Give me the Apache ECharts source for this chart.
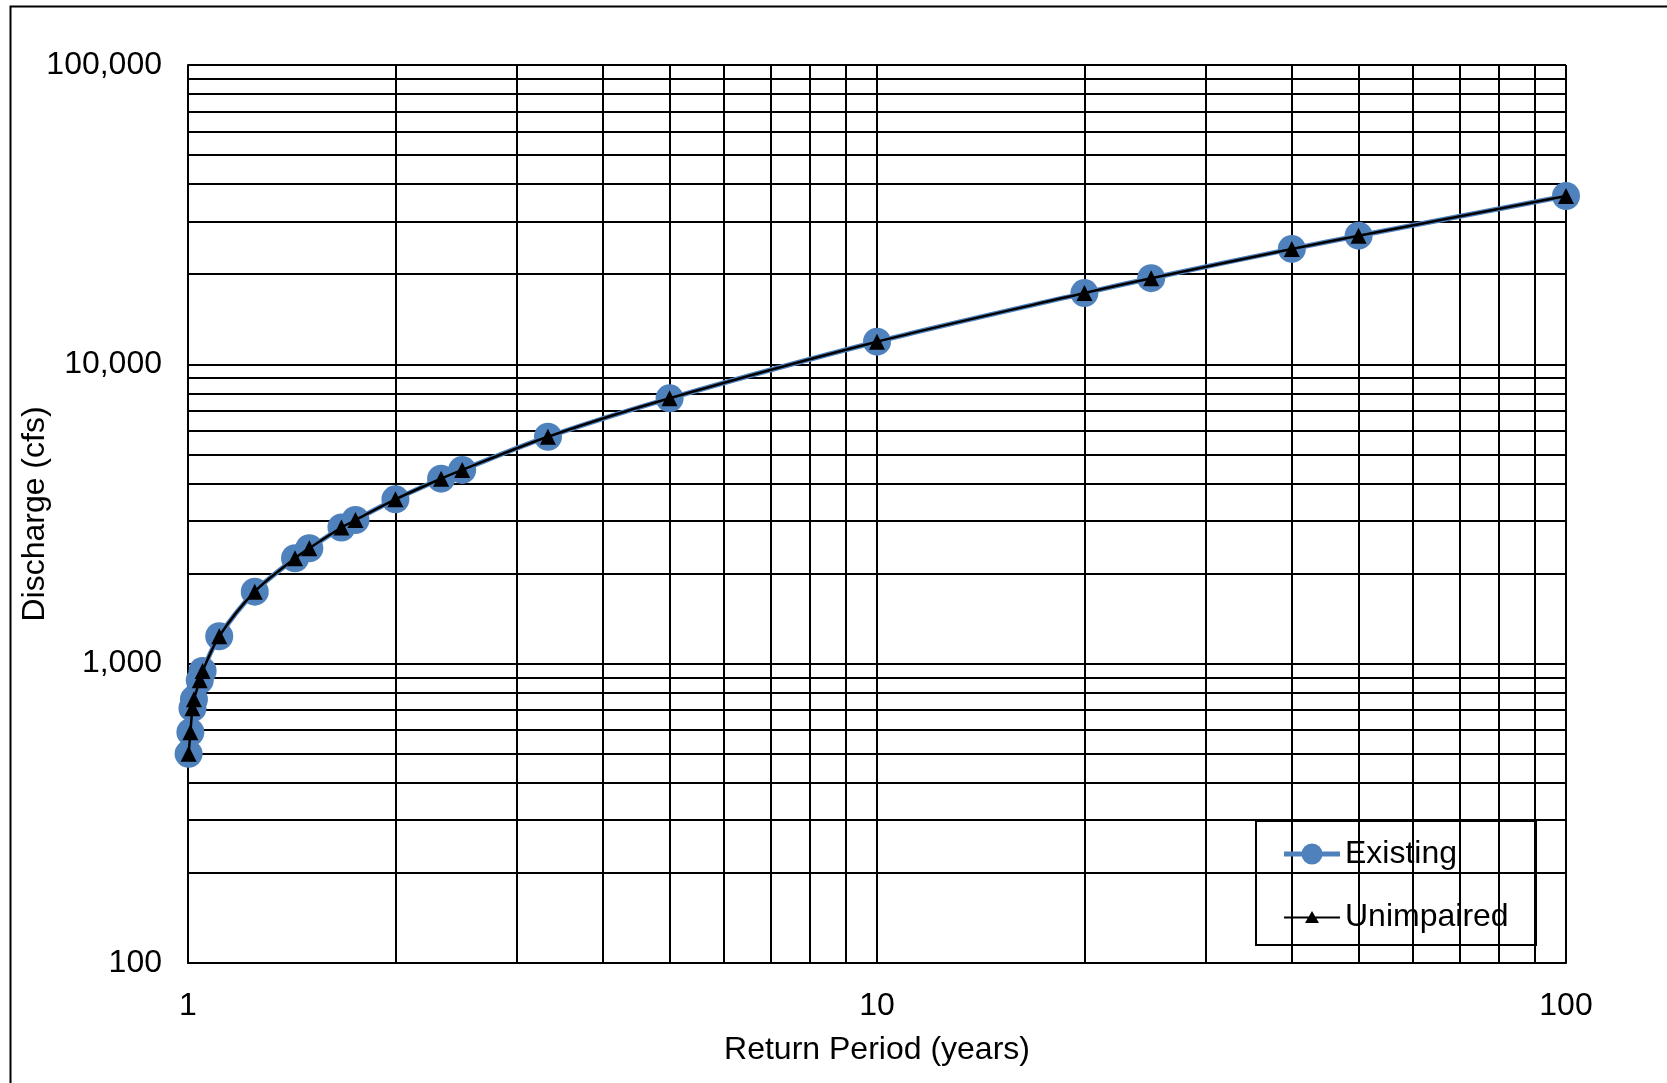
<!DOCTYPE html>
<html>
<head>
<meta charset="utf-8">
<script src="https://cdn.jsdelivr.net/npm/echarts@6/dist/echarts.min.js"></script>
<style>
html,body{margin:0;padding:0;background:#fff;}
#chart{width:1667px;height:1083px;}
</style>
</head>
<body>
<div id="chart"></div>
<script>
// Return period (years)
const returnPeriod = [1.002, 1.008, 1.015, 1.02, 1.04, 1.05, 1.11, 1.25, 1.43, 1.5, 1.67, 1.75, 2, 2.33, 2.5, 3.33, 5, 10, 20, 25, 40, 50, 100];
// Discharge (cfs)
const existing   = [500, 590, 710, 760, 880, 945, 1235, 1740, 2250, 2430, 2850, 3020, 3540, 4150, 4440, 5730, 7700, 11900, 17300, 19400, 24300, 26900, 36500];
const unimpaired = [500, 590, 710, 760, 880, 945, 1235, 1740, 2250, 2430, 2850, 3020, 3540, 4150, 4440, 5730, 7700, 11900, 17300, 19400, 24300, 26900, 36500];
// minor gridline values
const xMinorGrid = [2, 3, 4, 5, 6, 7, 8, 9, 20, 30, 40, 50, 60, 70, 80, 90];
const yMinorGrid = [200, 300, 400, 500, 600, 700, 800, 900, 2000, 3000, 4000, 5000, 6000, 7000, 8000, 9000, 20000, 30000, 40000, 50000, 60000, 70000, 80000, 90000];

const FONT = '"Liberation Sans", Arial, sans-serif';
const chart = echarts.init(document.getElementById('chart'), null, {renderer: 'canvas'});

const zip = (xs, ys) => xs.map((x, i) => [x, ys[i]]);
const markData = xMinorGrid.map(v => ({xAxis: v})).concat(yMinorGrid.map(v => ({yAxis: v})));

chart.setOption({
  animation: false,
  backgroundColor: '#fff',
  textStyle: {fontFamily: FONT, color: '#000'},
  grid: {left: 188, right: 101, top: 65, bottom: 120, containLabel: false, outerBoundsMode: 'none'},
  xAxis: {
    type: 'log', logBase: 10, min: 1, max: 100,
    name: 'Return Period (years)', nameLocation: 'middle', nameGap: 71, nameMoveOverlap: false,
    nameTextStyle: {fontSize: 32, color: '#000', fontFamily: FONT},
    axisLine: {show: true, lineStyle: {color: '#000', width: 2}},
    axisTick: {show: false},
    axisLabel: {fontSize: 32, color: '#000', margin: 27, fontFamily: FONT},
    splitLine: {show: true, lineStyle: {color: '#000', width: 2}}
  },
  yAxis: {
    type: 'log', logBase: 10, min: 100, max: 100000,
    name: 'Discharge (cfs)', nameLocation: 'middle', nameGap: 137, nameRotate: 90, nameMoveOverlap: false,
    nameTextStyle: {fontSize: 32, color: '#000', fontFamily: FONT},
    axisLine: {show: true, lineStyle: {color: '#000', width: 2}},
    axisTick: {show: false},
    axisLabel: {fontSize: 32, color: '#000', margin: 26, fontFamily: FONT,
      formatter: v => Number(v).toLocaleString('en-US')},
    splitLine: {show: true, lineStyle: {color: '#000', width: 2}}
  },
  legend: {
    show: true, orient: 'vertical', left: 1284, top: 838, z: 20,
    padding: 0, itemGap: 31, itemWidth: 56, itemHeight: 24,
    textStyle: {fontSize: 32, color: '#000', fontFamily: FONT, lineHeight: 32, padding: [0, 0, 0, 0]},
    data: [
      {name: 'Existing', icon: 'path://M0,8 L56,8 L56,13 L0,13 Z M17.5,10.5 A10.5,10.5 0 1 1 38.5,10.5 A10.5,10.5 0 1 1 17.5,10.5 Z'},
      {name: 'Unimpaired', icon: 'path://M0,9 L56,9 L56,11 L0,11 Z M21,15.5 L28,3.5 L35,15.5 Z'}
    ]
  },
  graphic: [
    {type: 'rect', silent: true, z: 100, shape: {x: 10.5, y: 6.5, width: 1700, height: 1100},
      style: {fill: 'none', stroke: '#000', lineWidth: 2}},
    {type: 'rect', silent: true, z: 3, shape: {x: 1256, y: 821, width: 280, height: 124},
      style: {fill: '#fff', stroke: '#000', lineWidth: 2}}
  ],
  series: [
    {
      name: 'grid-minor', type: 'line', data: [], z: 1, silent: true,
      markLine: {silent: true, symbol: ['none', 'none'], label: {show: false},
        lineStyle: {color: '#000', type: 'solid', width: 2}, emphasis: {disabled: true},
        data: markData}
    },
    {
      name: 'Existing', type: 'line', z: 10, smooth: 0.3,
      data: zip(returnPeriod, existing),
      symbol: 'circle', symbolSize: 28,
      itemStyle: {color: '#4F81BD'},
      lineStyle: {color: '#4F81BD', width: 5}
    },
    {
      name: 'Unimpaired', type: 'line', z: 11, smooth: 0.3,
      data: zip(returnPeriod, unimpaired),
      symbol: 'triangle', symbolSize: [16, 16],
      itemStyle: {color: '#000'},
      lineStyle: {color: '#000', width: 2.5}
    }
  ]
});
</script>
</body>
</html>
